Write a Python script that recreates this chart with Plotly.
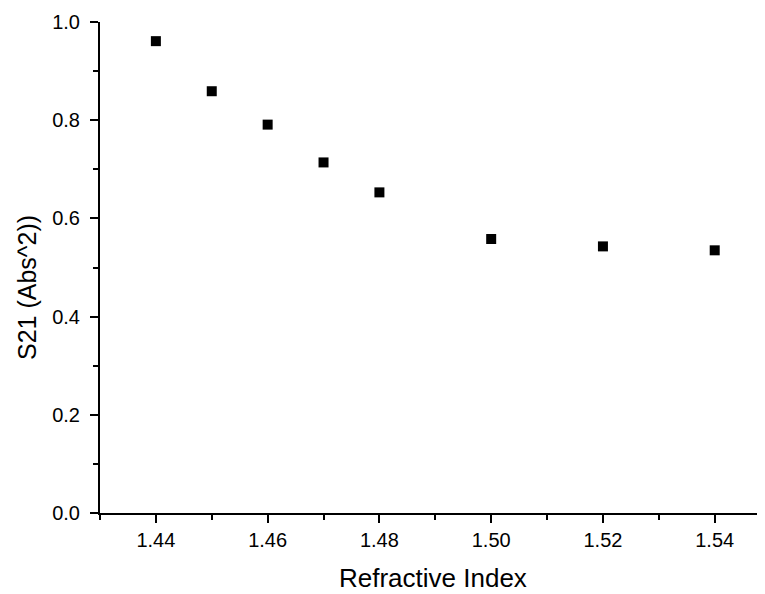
import plotly.graph_objects as go

refractive_index = [1.44, 1.45, 1.46, 1.47, 1.48, 1.50, 1.52, 1.54]
s21_abs2 = [0.961, 0.859, 0.791, 0.714, 0.653, 0.558, 0.543, 0.535]

x_tick_vals = [1.44, 1.46, 1.48, 1.50, 1.52, 1.54]
x_tick_text = ["1.44", "1.46", "1.48", "1.50", "1.52", "1.54"]
y_tick_vals = [0.0, 0.2, 0.4, 0.6, 0.8, 1.0]
y_tick_text = ["0.0", "0.2", "0.4", "0.6", "0.8", "1.0"]

FONT = "Liberation Sans, Arial, sans-serif"

fig = go.Figure()
fig.add_trace(go.Scatter(
    x=refractive_index, y=s21_abs2, mode="markers",
    marker=dict(symbol="square", size=10, color="black", line=dict(width=0)),
    showlegend=False,
))

fig.update_layout(
    width=757, height=586,
    margin=dict(l=92, r=0, t=14, b=81),
    paper_bgcolor="white", plot_bgcolor="white",
    font=dict(family=FONT, color="black"),
    xaxis=dict(
        range=[1.43, 1.549], showgrid=False, zeroline=False,
        showline=True, linecolor="black", linewidth=2,
        ticks="outside", ticklen=8, tickwidth=2, tickcolor="black",
        tickvals=x_tick_vals, ticktext=x_tick_text,
        tickfont=dict(size=20, family=FONT),
        minor=dict(ticks="outside", ticklen=5, tickwidth=2, tickcolor="black",
                   tick0=1.43, dtick=0.01, showgrid=False),
    ),
    yaxis=dict(
        range=[0, 1.0], showgrid=False, zeroline=False,
        showline=True, linecolor="black", linewidth=2,
        ticks="outside", ticklen=8, tickwidth=2, tickcolor="black",
        tickvals=y_tick_vals, ticktext=y_tick_text,
        tickfont=dict(size=20, family=FONT),
        ticklabelstandoff=6,
        minor=dict(ticks="outside", ticklen=5, tickwidth=2, tickcolor="black",
                   tick0=0.1, dtick=0.2, showgrid=False),
    ),
    annotations=[
        dict(text="Refractive Index", xref="paper", yref="paper",
             x=0.5, y=-0.133, xanchor="center", yanchor="middle",
             showarrow=False, font=dict(size=26, family=FONT)),
        dict(text="S21 (Abs^2))", xref="paper", yref="paper",
             x=-0.11, y=0.46, xanchor="center", yanchor="middle",
             textangle=-90, showarrow=False, font=dict(size=25, family=FONT)),
    ],
    shapes=[
        dict(type="line", xref="paper", yref="paper", x0=0, x1=0,
             y0=0, y1=-0.013, line=dict(color="black", width=2)),
    ],
)

fig.write_html("out.html")
